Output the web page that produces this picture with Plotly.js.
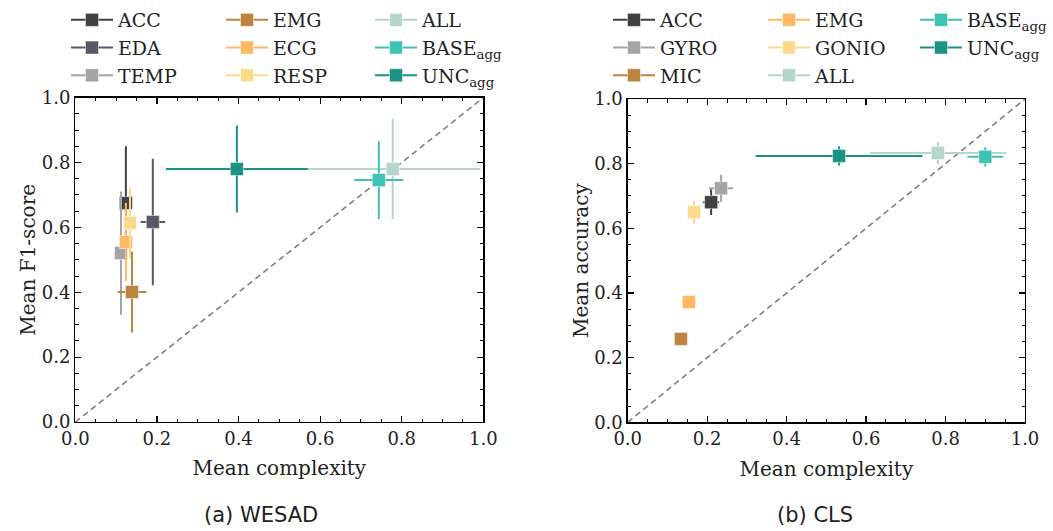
<!DOCTYPE html>
<html>
<head>
<meta charset="utf-8">
<script src="https://cdn.plot.ly/plotly-3.0.1.min.js"></script>
<style>html,body{margin:0;padding:0;background:#fff;}#chart{width:1053px;height:531px;}</style>
</head>
<body>
<div id="chart"></div>
<script>
// ---------- WESAD (a) ----------
const wesadNames = ['ACC', 'EDA', 'TEMP', 'EMG', 'ECG', 'RESP', 'ALL', 'BASE<sub>agg</sub>', 'UNC<sub>agg</sub>'];
const wesadColors = ['#414045', '#5a5867', '#a4a4a8', '#bd843f', '#ffb864', '#fcda8c', '#b7d5cf', '#3fc1b4', '#1c9283'];
const wesadX = [0.124, 0.190, 0.112, 0.139, 0.124, 0.134, 0.778, 0.744, 0.396];
const wesadXerr = [0.012, 0.030, 0.010, 0.035, 0.010, 0.012, 0.215, 0.060, 0.174];
const wesadY = [0.675, 0.617, 0.521, 0.401, 0.555, 0.614, 0.780, 0.746, 0.780];
const wesadYerr = [0.175, 0.195, 0.190, 0.125, 0.120, 0.110, 0.155, 0.120, 0.134];
const wesadLegend = ['legend', 'legend', 'legend', 'legend2', 'legend2', 'legend2', 'legend3', 'legend3', 'legend3'];

// ---------- CLS (b) ----------
const clsNames = ['ACC', 'GYRO', 'MIC', 'EMG', 'GONIO', 'ALL', 'BASE<sub>agg</sub>', 'UNC<sub>agg</sub>'];
const clsColors = ['#414045', '#a4a4a8', '#bd843f', '#ffb864', '#fcda8c', '#b7d5cf', '#3fc1b4', '#1c9283'];
const clsX = [0.210, 0.235, 0.134, 0.154, 0.167, 0.781, 0.900, 0.532];
const clsXerr = [0.020, 0.030, 0.000, 0.018, 0.008, 0.172, 0.045, 0.210];
const clsY = [0.681, 0.724, 0.258, 0.372, 0.650, 0.833, 0.821, 0.824];
const clsYerr = [0.040, 0.042, 0.000, 0.010, 0.035, 0.035, 0.030, 0.030];
const clsLegend = ['legend4', 'legend4', 'legend4', 'legend5', 'legend5', 'legend5', 'legend6', 'legend6'];

const diagX = [0, 1];
const diagY = [0, 1];

const serif = 'DejaVu Serif, Liberation Serif, serif';
const traces = [];

traces.push({x: diagX, y: diagY, xaxis: 'x', yaxis: 'y', mode: 'lines', showlegend: false,
  line: {color: '#808080', width: 1.6, dash: '6px,4px'}, hoverinfo: 'skip'});
traces.push({x: diagX, y: diagY, xaxis: 'x2', yaxis: 'y2', mode: 'lines', showlegend: false,
  line: {color: '#808080', width: 1.6, dash: '6px,4px'}, hoverinfo: 'skip'});

function addSeries(names, colors, xs, xe, ys, ye, legends, xa, ya) {
  for (let i = 0; i < names.length; i++) {
    traces.push({
      x: [xs[i]], y: [ys[i]], xaxis: xa, yaxis: ya,
      name: names[i], legend: legends[i],
      mode: 'lines+markers',
      line: {color: colors[i], width: 2},
      marker: {symbol: 'square', size: 13, color: colors[i], line: {color: 'rgba(255,255,255,0.6)', width: 0.8}},
      error_x: {type: 'data', array: [xe[i]], visible: true, color: colors[i], thickness: 2, width: 0},
      error_y: {type: 'data', array: [ye[i]], visible: true, color: colors[i], thickness: 2, width: 0}
    });
  }
}
addSeries(wesadNames, wesadColors, wesadX, wesadXerr, wesadY, wesadYerr, wesadLegend, 'x', 'y');
addSeries(clsNames, clsColors, clsX, clsXerr, clsY, clsYerr, clsLegend, 'x2', 'y2');

function axis(domain, anchor, titleText, standoff) {
  return {
    domain: domain, anchor: anchor, range: [0, 1],
    showgrid: false, zeroline: false,
    showline: true, linecolor: '#000', linewidth: 1.3, mirror: 'allticks',
    ticks: 'inside', ticklen: 6, tickwidth: 1.2, tickcolor: '#000',
    dtick: 0.2, tick0: 0, tickformat: '.1f',
    minor: {dtick: 0.05, ticks: 'inside', ticklen: 3.5, tickwidth: 1, tickcolor: '#000'},
    tickfont: {family: serif, size: 18, color: '#222'},
    title: {text: titleText, font: {family: serif, size: 20, color: '#222'}, standoff: standoff},
    automargin: false, fixedrange: true
  };
}

const legendBase = {font: {family: serif, size: 19, color: '#222'}, bgcolor: 'rgba(0,0,0,0)',
  borderwidth: 0, xanchor: 'left', yanchor: 'top', yref: 'paper', xref: 'paper', tracegroupgap: 0,
  itemwidth: 42};
function lg(xpx, ypx) { return Object.assign({}, legendBase, {x: xpx / 1053, y: 1 - ypx / 531}); }

const layout = {
  width: 1053, height: 531,
  margin: {l: 0, r: 0, t: 0, b: 0},
  paper_bgcolor: '#fff', plot_bgcolor: '#fff',
  xaxis: axis([75.3 / 1053, 483.3 / 1053], 'y', 'Mean complexity', 13),
  yaxis: axis([1 - 422 / 531, 1 - 97.7 / 531], 'x', 'Mean F1-score', 0),
  xaxis2: axis([627.7 / 1053, 1025 / 1053], 'y2', 'Mean complexity', 13),
  yaxis2: axis([1 - 422.3 / 531, 1 - 99 / 531], 'x2', 'Mean accuracy', 0),
  legend: lg(66, 1),
  legend2: lg(221, 1),
  legend3: lg(370, 1),
  legend4: lg(608, 1),
  legend5: lg(763, 1),
  legend6: Object.assign(lg(1053, 1), {xanchor: 'right', x: 1}),
  annotations: [
    {text: '(a) WESAD', xref: 'paper', yref: 'paper', x: 261 / 1053, y: 1 - 515 / 531,
     xanchor: 'center', yanchor: 'middle', showarrow: false,
     font: {family: 'DejaVu Sans, Noto Sans, sans-serif', size: 21, color: '#222'}},
    {text: '(b) CLS', xref: 'paper', yref: 'paper', x: 815 / 1053, y: 1 - 515 / 531,
     xanchor: 'center', yanchor: 'middle', showarrow: false,
     font: {family: 'DejaVu Sans, Noto Sans, sans-serif', size: 21, color: '#222'}}
  ],
  showlegend: true
};

Plotly.newPlot('chart', traces, layout, {displayModeBar: false, staticPlot: true});
</script>
</body>
</html>
